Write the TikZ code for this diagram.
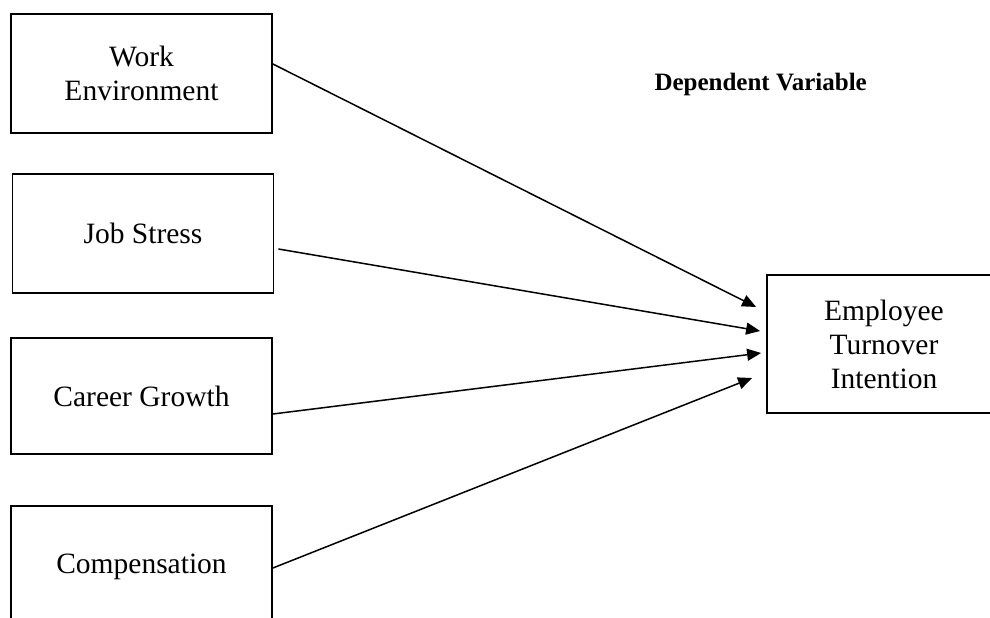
\documentclass[tikz,border=0pt]{standalone}
\usepackage{fontspec}
\setmainfont{Liberation Serif}
\usetikzlibrary{arrows.meta}
\begin{document}
\begin{tikzpicture}[x=1pt,y=-1pt,
  varbox/.style={draw, line width=1.8pt, minimum width=261pt, minimum height=119pt,
    align=center, inner sep=0pt, font=\fontsize{29.5}{34}\selectfont},
  link/.style={line width=1.5pt, -{Triangle[length=14pt,width=12pt]}}]
\useasboundingbox (0,0) rectangle (990,618);
\clip (0,0) rectangle (990,618);
\node[varbox] (we) at (141.5,73.5) {Work\\Environment};
\node[varbox] (js) at (143,233.5) {Job Stress};
\node[varbox, minimum height=116pt] (cg) at (141.5,396) {Career Growth};
\node[varbox, minimum height=122pt] (co) at (141.5,567) {Compensation};
\node[varbox, minimum width=234pt, minimum height=138pt] (et) at (884,344) {Employee\\Turnover\\Intention};
\node[font=\bfseries\fontsize{25}{29}\selectfont, anchor=east, inner sep=0pt] (dv) at (867,84) {Dependent Variable};
\draw[link] ([yshift=9.5pt]we.east) -- ([xshift=-10pt,yshift=37pt]et.west);
\draw[link] ([xshift=4pt,yshift=-15.5pt]js.east) -- ([xshift=-6pt,yshift=13pt]et.west);
\draw[link] ([yshift=-18pt]cg.east) -- ([xshift=-5pt,yshift=-9pt]et.west);
\draw[link] ([yshift=-1pt]co.east) -- ([xshift=-14pt,yshift=-34pt]et.west);
\end{tikzpicture}
\end{document}
